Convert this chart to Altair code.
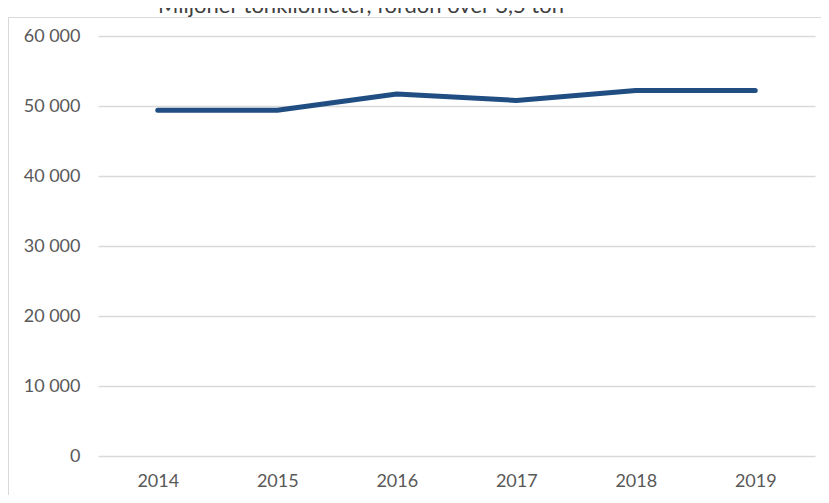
import altair as alt
import pandas as pd

years = ["2014", "2015", "2016", "2017", "2018", "2019"]
values = [49400, 49400, 51700, 50800, 52200, 52200]
title_text = "Miljoner tonkilometer, fordon över 3,5 ton"

df = pd.DataFrame({"year": years, "value": values})

W, H = 717, 420

line = alt.Chart(df).mark_line(color="#214e82", strokeWidth=5, strokeCap="round", strokeJoin="round").encode(
    x=alt.X("year:N", sort=years,
            scale=alt.Scale(paddingInner=0, paddingOuter=0),
            axis=alt.Axis(title=None, labelAngle=0, ticks=False, domain=False, grid=False,
                          labelFont="Lato", labelFontSize=18, labelColor="#595959",
                          labelPadding=16)),
    y=alt.Y("value:Q", scale=alt.Scale(domain=[0, 60000]),
            axis=alt.Axis(title=None, values=[0, 10000, 20000, 30000, 40000, 50000, 60000],
                          ticks=False, domain=False, gridColor="#d9d9d9", gridWidth=1.3,
                          labelFont="Lato", labelFontSize=18, labelColor="#595959",
                          labelPadding=18,
                          labelExpr="replace(format(datum.value, ','), ',', ' ')")),
)

border = alt.Chart(pd.DataFrame({"a": [0]})).mark_rect(fill=None, stroke="#d9d9d9", strokeWidth=1).encode(
    x=alt.value(-89.5), x2=alt.value(W + 40), y=alt.value(-18.5), y2=alt.value(H + 80)
)

chart = alt.layer(border, line).properties(
    width=W, height=H,
    background="white",
    title=alt.TitleParams(title_text, font="Lato", fontSize=22, fontWeight="normal",
                          color="#404040", anchor="start", dx=150, dy=5),
    autosize=alt.AutoSizeParams(type="none"),
    padding={"left": 90, "top": 28, "right": 6, "bottom": 39},
).configure_view(strokeWidth=0, stroke="transparent")

chart.save("out.html", embed_options={"renderer": "svg", "actions": False})
